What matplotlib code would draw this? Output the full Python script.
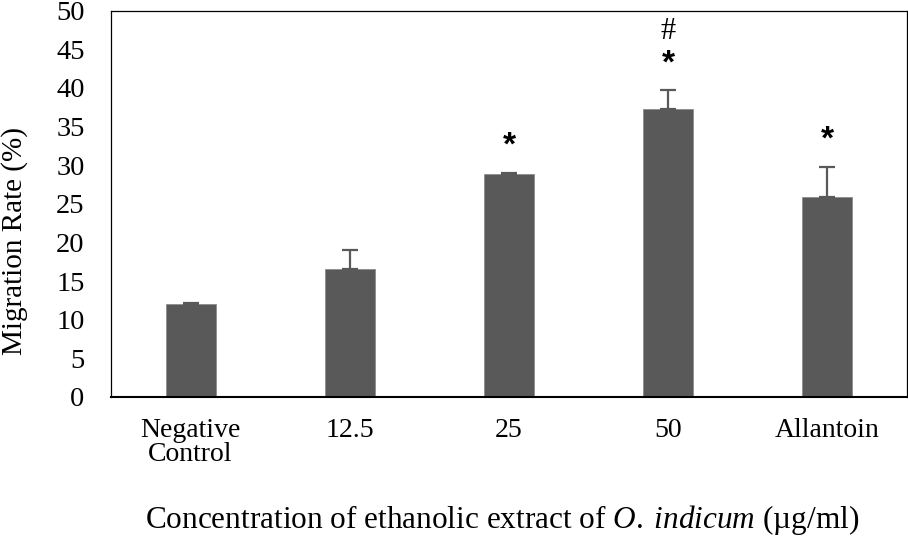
import matplotlib
matplotlib.use("Agg")
import matplotlib.pyplot as plt
import numpy as np

# values
groups = ["Negative\nControl", "12.5", "25", "50", "Allantoin"]
migration = [12.0, 16.6, 28.9, 37.3, 25.9]
sd = [0.15, 2.4, 0.1, 2.4, 3.9]
marks = ["", "", "*", "*", "*"]
hash_marks = ["", "", "", "#", ""]

plt.rcParams['font.family'] = ['Liberation Serif', 'DejaVu Serif']
plt.rcParams['mathtext.fontset'] = 'custom'
plt.rcParams['mathtext.rm'] = 'Liberation Serif'
plt.rcParams['mathtext.it'] = 'Liberation Serif:italic'

fig = plt.figure(figsize=(9.08, 5.45), dpi=100)
ax = fig.add_axes([0.1222, 0.2716, 0.8767, 0.7091])

x = np.arange(len(groups))
ax.bar(x, migration, width=0.314, color="#595959", edgecolor="#8c8c8c", linewidth=0.6,
       zorder=2)
ax.errorbar(x, migration, yerr=[np.zeros(len(sd)), sd], fmt="none", ecolor="#595959",
            elinewidth=1.6, capsize=5.5, capthick=1.6, zorder=3)

# significance symbols
for i in range(len(groups)):
    top = migration[i] + sd[i]
    if marks[i]:
        ax.annotate(marks[i], (x[i], top), xytext=(0, 19), textcoords="offset points",
                    ha="center", va="center", fontsize=24, fontweight="bold",
                    family="Liberation Sans")
    if hash_marks[i]:
        ax.annotate(hash_marks[i], (x[i], top), xytext=(0, 42), textcoords="offset points",
                    ha="center", va="center", fontsize=22)

ax.set_xlim(-0.5, 4.5)
ax.set_ylim(0, 50)
ax.set_yticks(np.arange(0, 51, 5))
ax.set_xticks(x)
ax.set_xticklabels(groups, fontsize=20, linespacing=0.95)
ax.tick_params(axis="y", length=0, pad=19, labelsize=20.5)
ax.tick_params(axis="x", length=0, pad=15)

for s in ax.spines.values():
    s.set_linewidth(0.9)
    s.set_color("black")
ax.spines["bottom"].set_linewidth(1.5)

fig.text(502 / 908, 1 - 528 / 545,
         r"Concentration of ethanolic extract of $\it{O.\;indicum}$ (µg/ml)",
         ha="center", va="baseline", fontsize=22.5)
fig.text(15 / 908, 1 - 241 / 545, "Migration Rate (%)", rotation=90,
         ha="center", va="center", fontsize=21)

fig.savefig("out.png", dpi=100)
